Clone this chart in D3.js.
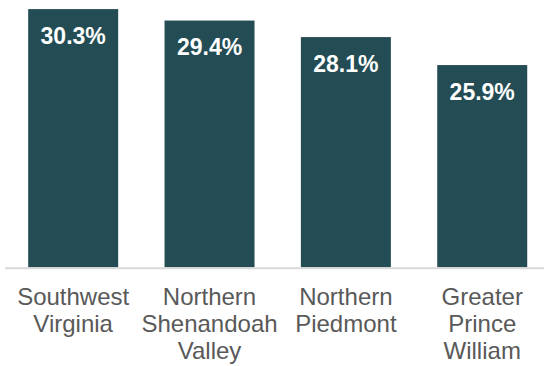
<!DOCTYPE html>
<html>
<head>
<meta charset="utf-8">
<script src="https://cdn.jsdelivr.net/npm/d3@7/dist/d3.min.js"></script>
<style>
  html, body { margin: 0; padding: 0; background: #fff; }
  svg { display: block; }
</style>
</head>
<body>
<svg id="chart" width="544" height="366"></svg>
<script>
// Share of residents by region (%)
const regions = [
  ["Southwest", "Virginia"],
  ["Northern", "Shenandoah", "Valley"],
  ["Northern", "Piedmont"],
  ["Greater", "Prince", "William"]
];
const shares = [30.3, 29.4, 28.1, 25.9];
const yMin = 10;
const yMax = 31;

const svg = d3.select("#chart");
const W = 544, H = 366;
const baseY = 267.3;

const x = d3.scaleBand()
  .domain(d3.range(regions.length))
  .range([5, 550.4])
  .paddingInner(0.34)
  .paddingOuter(0.17);

const y = d3.scaleLinear()
  .domain([yMin, yMax])
  .range([baseY, 0.2]);

const barColor = "#234C54";

// bars
svg.append("g")
  .selectAll("rect")
  .data(shares)
  .join("rect")
  .attr("x", (d, i) => x(i))
  .attr("y", d => y(d))
  .attr("width", x.bandwidth())
  .attr("height", d => baseY - y(d))
  .attr("fill", barColor);

// value labels inside the bar tops
svg.append("g")
  .selectAll("text")
  .data(shares)
  .join("text")
  .attr("x", (d, i) => x(i) + x.bandwidth() / 2)
  .attr("y", d => y(d) + 34.5)
  .attr("text-anchor", "middle")
  .attr("fill", "#ffffff")
  .attr("font-family", "Liberation Sans, Arial, sans-serif")
  .attr("font-weight", "bold")
  .attr("font-size", "23px")
  .text(d => d.toFixed(1) + "%");

// category axis line
svg.append("line")
  .attr("x1", 5)
  .attr("x2", W)
  .attr("y1", 268.3)
  .attr("y2", 268.3)
  .attr("stroke", "#D9D9D9")
  .attr("stroke-width", 2);

// category labels (multi-line)
const labels = svg.append("g")
  .selectAll("text")
  .data(regions)
  .join("text")
  .attr("x", (d, i) => x(i) + x.bandwidth() / 2)
  .attr("y", 305.3)
  .attr("text-anchor", "middle")
  .attr("fill", "#595959")
  .attr("font-family", "Liberation Sans, Arial, sans-serif")
  .attr("font-size", "24px");

labels.selectAll("tspan")
  .data(d => d)
  .join("tspan")
  .attr("x", function () { return d3.select(this.parentNode).attr("x"); })
  .attr("dy", (d, j) => j === 0 ? 0 : 27)
  .text(d => d);
</script>
</body>
</html>
